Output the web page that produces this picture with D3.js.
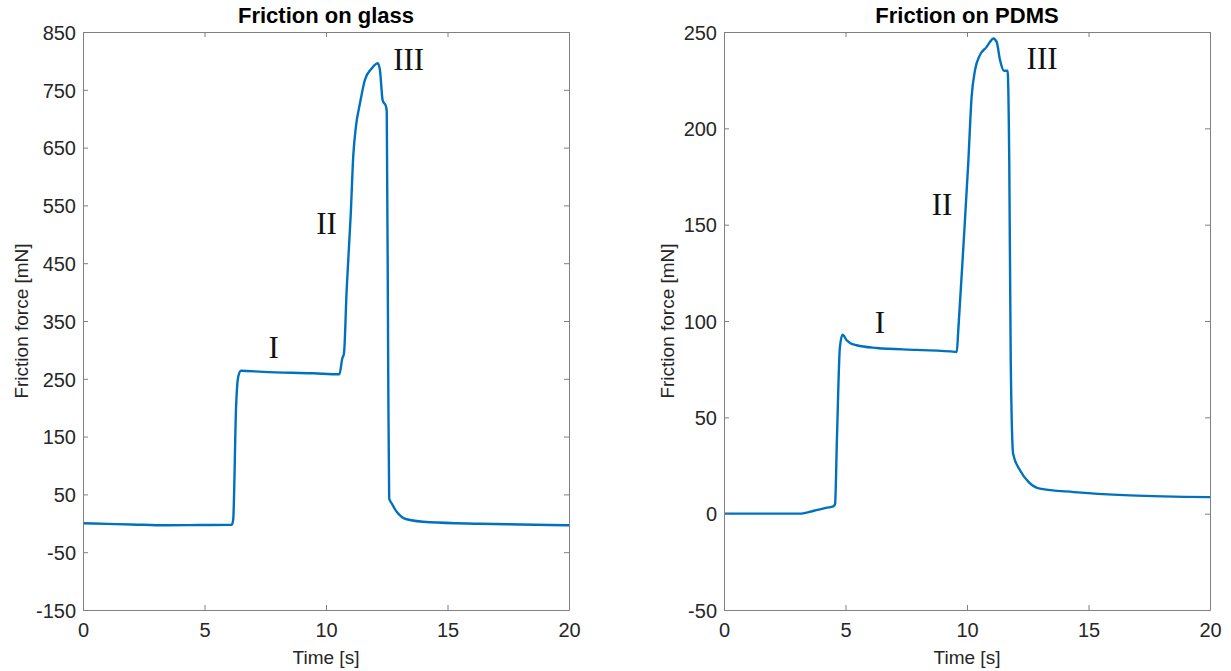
<!DOCTYPE html>
<html>
<head>
<meta charset="utf-8">
<script src="https://cdn.jsdelivr.net/npm/d3@7"></script>
<style>
  html, body { margin: 0; padding: 0; background: #fff; }
  svg { display: block; }
</style>
</head>
<body>
<svg id="chart" width="1231" height="671"></svg>
<script>
// ---------------- DATA ----------------
const glassTime  = [0, 1, 2, 3.4, 4.8, 6.12, 6.18, 6.30, 6.39, 6.5, 7.42, 9.48, 10.55, 10.67, 10.74, 10.85, 11.02, 11.12, 11.23, 11.40, 11.60, 11.88, 12.07, 12.13, 12.22, 12.33, 12.47, 12.50, 12.56, 12.60, 12.70, 12.91, 13.32, 14.28, 16.34, 18, 20];
const glassForce = [0, -1, -2, -3.5, -3, -2.5, 6, 202, 254, 264, 262, 259.5, 257.8, 285, 294, 404, 536, 634, 686, 727, 767, 787, 795, 796, 784, 732, 721, 712, 265, 43, 34.6, 20, 7, 1.7, -0.7, -2, -3.5];

const pdmsTime  = [0, 1.5, 3.13, 3.7, 4.23, 4.5, 4.57, 4.65, 4.77, 4.88, 5.05, 5.2, 5.46, 6.28, 7.93, 9.51, 9.58, 9.64, 9.85, 10.05, 10.19, 10.33, 10.53, 10.81, 10.95, 11.08, 11.22, 11.36, 11.52, 11.67, 11.74, 11.80, 11.90, 12.18, 12.54, 13.0, 14.4, 16.7, 20];
const pdmsForce = [0, 0, 0, 1.5, 3.1, 3.8, 5, 40, 86.5, 92.9, 90, 88.5, 87.4, 86, 85, 84, 83.9, 95, 138.4, 181.7, 216.3, 230.2, 238, 242.3, 244.9, 246.6, 244.9, 235.4, 229.9, 229.9, 181.6, 79.3, 31, 22.5, 16.4, 13, 11.2, 9.5, 8.6];

const titles = ["Friction on glass", "Friction on PDMS"];
const xTicks = [0, 5, 10, 15, 20];
const glassYTicks = [-150, -50, 50, 150, 250, 350, 450, 550, 650, 750, 850];
const pdmsYTicks = [-50, 0, 50, 100, 150, 200, 250];
const xLabel = "Time [s]";
const yLabel = "Friction force [mN]";
const phaseLabels = ["I", "II", "III"];
// phase label anchor positions (baseline) in data units [time, force]
const glassPhasePos = [[7.85, 286], [10.02, 500], [13.4, 784]];
const pdmsPhasePos  = [[6.42, 94], [8.97, 155], [13.09, 231]];

// ---------------- DRAW ----------------
const svg = d3.select("#chart");
svg.append("rect").attr("width", 1231).attr("height", 671).attr("fill", "#fff");

const panels = [
  { left: 83,  right: 569,  top: 32, bottom: 610, t: glassTime, f: glassForce, yDomain: [-150, 850], yTicks: glassYTicks, title: titles[0], phase: glassPhasePos, yLabelX: 21 },
  { left: 724, right: 1210, top: 32, bottom: 610, t: pdmsTime,  f: pdmsForce,  yDomain: [-50, 250],  yTicks: pdmsYTicks,  title: titles[1], phase: pdmsPhasePos,  yLabelX: 667 }
];

const axisColor = "#808080";
const textColor = "#262626";
const tickLen = 5;
const fmt = d => String(d);

panels.forEach(p => {
  const x = d3.scaleLinear().domain([0, 20]).range([p.left, p.right]);
  const y = d3.scaleLinear().domain(p.yDomain).range([p.bottom, p.top]);
  const g = svg.append("g");

  const clipId = "clip" + p.left;
  svg.append("clipPath").attr("id", clipId).append("rect")
    .attr("x", p.left).attr("y", p.top - 2).attr("width", p.right - p.left).attr("height", p.bottom - p.top + 2);
  const pts = p.t.map((tv, i) => [tv, p.f[i]]);
  g.append("path")
    .datum(pts)
    .attr("clip-path", `url(#${clipId})`)
    .attr("fill", "none")
    .attr("stroke", "#0072BD")
    .attr("stroke-width", 2.4)
    .attr("stroke-linejoin", "round")
    .attr("stroke-linecap", "round")
    .attr("d", d3.line().curve(d3.curveMonotoneX).x(d => x(d[0])).y(d => y(d[1])));

  const axBottom = g.append("g").attr("transform", `translate(0,${p.bottom})`)
    .call(d3.axisBottom(x).tickValues(xTicks).tickFormat(fmt).tickSizeInner(-tickLen).tickSizeOuter(0).tickPadding(13));
  const axTop = g.append("g").attr("transform", `translate(0,${p.top})`)
    .call(d3.axisTop(x).tickValues(xTicks).tickSizeInner(-tickLen).tickSizeOuter(0).tickFormat(""));
  const axLeft = g.append("g").attr("transform", `translate(${p.left},0)`)
    .call(d3.axisLeft(y).tickValues(p.yTicks).tickFormat(fmt).tickSizeInner(-tickLen).tickSizeOuter(0).tickPadding(7));
  const axRight = g.append("g").attr("transform", `translate(${p.right},0)`)
    .call(d3.axisRight(y).tickValues(p.yTicks).tickSizeInner(-tickLen).tickSizeOuter(0).tickFormat(""));

  [axBottom, axTop, axLeft, axRight].forEach(a => {
    a.select(".domain").attr("stroke", axisColor).attr("stroke-width", 1);
    a.selectAll(".tick line").attr("stroke", axisColor).attr("stroke-width", 1);
    a.selectAll(".tick text")
      .attr("fill", textColor)
      .style("font-family", "'Liberation Sans', Arial, sans-serif")
      .style("font-size", "20px");
  });
  axBottom.selectAll(".tick text").attr("dy", "0.71em");
  axLeft.selectAll(".tick text").attr("dy", "0.36em");

  g.append("text")
    .attr("x", (p.left + p.right) / 2).attr("y", 23)
    .attr("text-anchor", "middle")
    .style("font-family", "'Liberation Sans', Arial, sans-serif")
    .style("font-size", "22px").style("font-weight", "bold")
    .attr("fill", "#000")
    .text(p.title);

  g.append("text")
    .attr("x", (p.left + p.right) / 2).attr("y", 664)
    .attr("text-anchor", "middle")
    .style("font-family", "'Liberation Sans', Arial, sans-serif")
    .style("font-size", "19px")
    .attr("fill", textColor)
    .text(xLabel);

  g.append("text")
    .attr("transform", `translate(${p.yLabelX},${(p.top + p.bottom) / 2}) rotate(-90)`)
    .attr("text-anchor", "middle")
    .attr("dy", "0.36em")
    .style("font-family", "'Liberation Sans', Arial, sans-serif")
    .style("font-size", "19px")
    .attr("fill", textColor)
    .text(yLabel);

  p.phase.forEach((pos, i) => {
    g.append("text")
      .attr("x", x(pos[0])).attr("y", y(pos[1]))
      .attr("text-anchor", "middle")
      .style("font-family", "'Liberation Serif', 'Times New Roman', serif")
      .style("font-size", "31px")
      .attr("fill", "#111")
      .text(phaseLabels[i]);
  });
});
</script>
</body>
</html>
